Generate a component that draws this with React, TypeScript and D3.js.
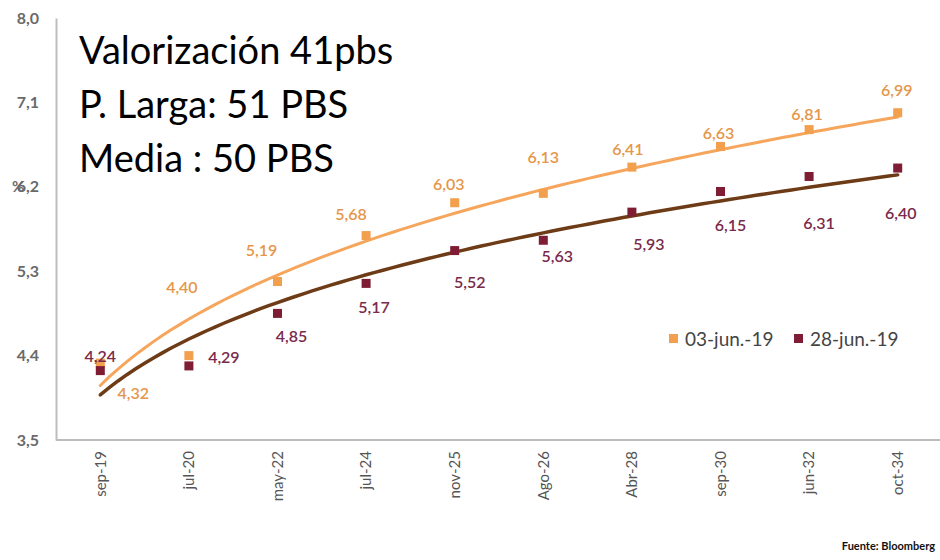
import React, { useRef, useEffect } from 'react'
import { select, scaleBand, scaleLinear, line, axisLeft, axisBottom, range } from 'd3'

// categories / series
const categories = ['sep-19', 'jul-20', 'may-22', 'jul-24', 'nov-25', 'Ago-26', 'Abr-28', 'sep-30', 'jun-32', 'oct-34']
const jun03 = [4.32, 4.40, 5.19, 5.68, 6.03, 6.13, 6.41, 6.63, 6.81, 6.99]
const jun28 = [4.24, 4.29, 4.85, 5.17, 5.52, 5.63, 5.93, 6.15, 6.31, 6.40]
const yTicks = [3.5, 4.4, 5.3, 6.2, 7.1, 8.0]
const seriesNames = ['03-jun.-19', '28-jun.-19']
const notes = ['Valorización 41pbs', 'P. Larga: 51 PBS', 'Media : 50 PBS']

// where each data label sits relative to its marker (px)
const orangeLabelOff = [[33, 30], [-7, -68], [-16, -31], [-15, -21], [-6, -18], [0, -36], [-4, -18], [-2, -13], [-2, -15], [-1, -22]]
const darkLabelOff = [[0, -14], [35, -9], [14, 23], [8, 24], [15, 32], [14, 16], [17, 32], [10, 34], [10, 47], [3, 45]]

const ORANGE = '#F2A04E'
const DARK = '#7E1D33'
const FONT = 'Lato, "Open Sans", sans-serif'

const fmt = v => v.toFixed(2).replace('.', ',')

// power trendline  y = a * x^b  (the spreadsheet's "potencial" trend)
function powerFit(vals) {
  const xs = vals.map((_, i) => Math.log(i + 1))
  const ys = vals.map(v => Math.log(v))
  const n = vals.length
  const mx = xs.reduce((s, v) => s + v, 0) / n
  const my = ys.reduce((s, v) => s + v, 0) / n
  let sxy = 0, sxx = 0
  xs.forEach((x, i) => { sxy += (x - mx) * (ys[i] - my); sxx += (x - mx) ** 2 })
  const b = sxy / sxx
  const a = Math.exp(my - b * mx)
  return t => a * Math.pow(t, b)
}

function App() {
  const svgRef = useRef()
  const width = 940, height = 560
  const left = 56, bottom = 440, top = 18, right = 942

  useEffect(() => {
    const svg = select(svgRef.current)
    svg.selectAll('*').remove()

    const x = scaleBand().domain(categories).range([left, right])
    const cx = c => x(c) + x.bandwidth() / 2
    const xi = scaleLinear().domain([1, categories.length]).range([cx(categories[0]), cx(categories[categories.length - 1])])
    const y = scaleLinear().domain([3.5, 8.0]).range([bottom, top])

    // axes
    const yAxis = axisLeft(y).tickValues(yTicks).tickSize(0).tickPadding(17).tickFormat(d => d.toFixed(1).replace('.', ','))
    const gy = svg.append('g').attr('transform', `translate(${left},0)`).call(yAxis)
    gy.select('.domain').attr('stroke', '#BDBDBD').attr('stroke-width', 2)
    gy.selectAll('text').attr('font-family', FONT).attr('font-size', 16).attr('font-weight', 700).attr('fill', '#6a6a6a')

    // "%" axis title sitting on top of the 6,2 label, as in the source
    svg.append('text').attr('x', 12).attr('y', y(6.2)).attr('dy', '0.34em')
      .attr('font-family', FONT).attr('font-size', 15).attr('font-weight', 700).attr('fill', '#6a6a6a').text('%')

    const xAxis = axisBottom(x).tickSize(0).tickPadding(0)
    const gx = svg.append('g').attr('transform', `translate(0,${bottom})`).call(xAxis)
    gx.select('.domain').remove()
    gx.selectAll('text')
      .attr('font-family', FONT).attr('font-size', 15).attr('fill', '#555')
      .attr('transform', 'rotate(-90)')
      .attr('text-anchor', 'end').attr('dy', '0.35em').attr('x', -11).attr('y', 0)
    svg.append('line').attr('x1', left).attr('x2', width).attr('y1', bottom).attr('y2', bottom)
      .attr('stroke', '#BDBDBD').attr('stroke-width', 2)

    // trendlines
    const ts = range(1, categories.length + 0.001, 0.1)
    const drawTrend = (vals, color, w) => {
      const f = powerFit(vals)
      svg.append('path').datum(ts)
        .attr('d', line().x(t => xi(t)).y(t => y(f(t))))
        .attr('fill', 'none').attr('stroke', color).attr('stroke-width', w).attr('stroke-linecap', 'round')
    }
    drawTrend(jun03, '#F6A65C', 3)
    drawTrend(jun28, '#6E3B17', 3.5)

    // markers
    const drawMarkers = (vals, color) => {
      svg.append('g').selectAll('rect').data(vals).join('rect')
        .attr('x', (d, i) => cx(categories[i]) - 4.5)
        .attr('y', d => y(d) - 4.5)
        .attr('width', 9).attr('height', 9)
        .attr('fill', color)
    }
    drawMarkers(jun03, ORANGE)
    drawMarkers(jun28, DARK)

    // data labels
    const drawLabels = (vals, off, color) => {
      svg.append('g').selectAll('text').data(vals).join('text')
        .attr('x', (d, i) => cx(categories[i]) + off[i][0])
        .attr('y', (d, i) => y(d) + off[i][1])
        .attr('dy', '0.35em')
        .attr('text-anchor', 'middle')
        .attr('font-family', FONT).attr('font-size', 16).attr('font-weight', 600)
        .attr('fill', color)
        .text(d => fmt(d))
    }
    drawLabels(jun03, orangeLabelOff, '#E5964A')
    drawLabels(jun28, darkLabelOff, '#7A2A4A')

    // legend
    const lg = svg.append('g').attr('transform', 'translate(669,339)')
    const legendX = [0, 125]
    seriesNames.forEach((name, i) => {
      lg.append('rect').attr('x', legendX[i]).attr('y', -5).attr('width', 9).attr('height', 9)
        .attr('fill', i === 0 ? ORANGE : DARK)
      lg.append('text').attr('x', legendX[i] + 16).attr('y', 0).attr('dy', '0.35em')
        .attr('font-family', FONT).attr('font-size', 19).attr('fill', '#444').text(name)
    })

    // overlay notes
    svg.append('g').selectAll('text').data(notes).join('text')
      .attr('x', 79).attr('y', (d, i) => 64 + i * 54)
      .attr('font-family', FONT).attr('font-size', 38).attr('fill', '#000')
      .text(d => d)

    // source
    svg.append('text').attr('x', 935).attr('y', 550).attr('text-anchor', 'end')
      .attr('font-family', FONT)
      .attr('font-size', 11).attr('font-weight', 700).attr('fill', '#111')
      .text('Fuente: Bloomberg')
  }, [])

  return (
    <svg ref={svgRef} width={width} height={height}
      style={{ position: 'absolute', left: 0, top: 0, background: '#fff' }} />
  )
}

export default App
